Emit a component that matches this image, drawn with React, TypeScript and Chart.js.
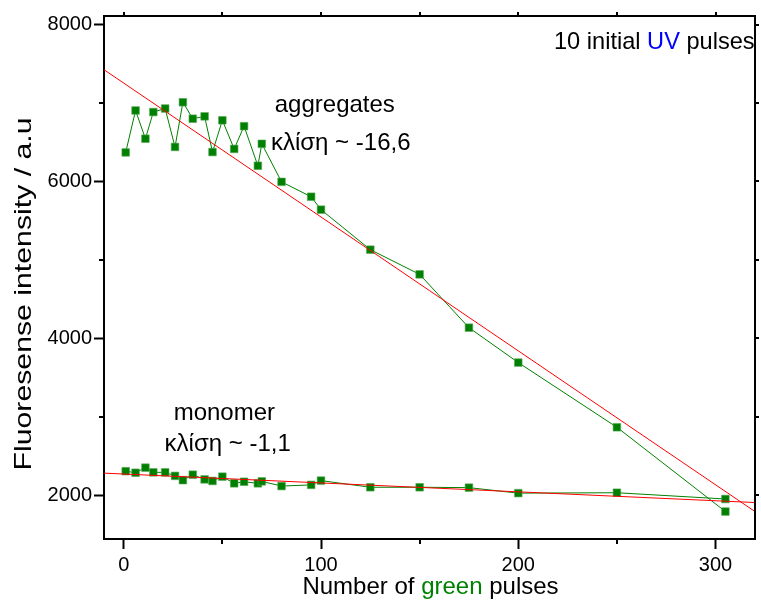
import React, { useEffect, useRef } from 'react';
import { Chart, registerables } from 'chart.js';

Chart.register(...registerables);

// Number of green pulses (x)
const pulses = [1, 6, 11, 15, 21, 26, 30, 35, 41, 45, 50, 56, 61, 68, 70, 80, 95, 100, 125, 150, 175, 200, 250, 305];
// Fluorescence intensity of aggregates
const aggregates = [6370, 6905, 6545, 6885, 6930, 6440, 7010, 6800, 6830, 6375, 6780, 6415, 6705, 6200, 6480, 5995, 5805, 5640, 5130, 4815, 4135, 3690, 2865, 1790];
// Fluorescence intensity of monomer
const monomer = [2305, 2285, 2350, 2290, 2290, 2245, 2190, 2260, 2200, 2180, 2235, 2150, 2170, 2150, 2175, 2115, 2130, 2185, 2100, 2100, 2095, 2025, 2030, 1950];
// Linear fits (end points)
const fitX = [-10, 320];
const aggregatesFit = [7425, 1790];
const monomerFit = [2280, 1905];

// Axes
const xTicks = [0, 50, 100, 150, 200, 250, 300];
const xLabelled = [0, 100, 200, 300];
const yTicks = [2000, 3000, 4000, 5000, 6000, 7000, 8000];
const yLabelled = [2000, 4000, 6000, 8000];

// Texts
const xTitleParts = [
  { text: 'Number of ', color: '#000000' },
  { text: 'green', color: '#008000' },
  { text: ' pulses', color: '#000000' },
];
const yTitle = 'Fluoresense intensity / a.u';
const cornerParts = [
  { text: '10 initial ', color: '#000000' },
  { text: 'UV', color: '#0000FF' },
  { text: ' pulses', color: '#000000' },
];
const notes = [
  { text: 'aggregates', x: 107, y: 6890 },
  { text: 'κλίση ~ -16,6', x: 110, y: 6400 },
  { text: 'monomer', x: 51, y: 2960 },
  { text: 'κλίση ~ -1,1', x: 52.7, y: 2568 },
];

const FONT = '"Liberation Sans", Arial, sans-serif';

function drawParts(ctx: CanvasRenderingContext2D, parts: { text: string; color: string }[], x: number, y: number, align: 'left' | 'center') {
  const widths = parts.map((p) => ctx.measureText(p.text).width);
  const total = widths.reduce((a, b) => a + b, 0);
  let cx = align === 'center' ? x - total / 2 : x;
  ctx.textAlign = 'left';
  parts.forEach((p, i) => {
    ctx.fillStyle = p.color;
    ctx.fillText(p.text, cx, y);
    cx += widths[i];
  });
}

const overlay = {
  id: 'overlay',
  afterDraw(chart: any) {
    const { ctx, chartArea } = chart;
    const { left, right, top, bottom } = chartArea;
    const xs = chart.scales.x;
    const ys = chart.scales.y;
    ctx.save();
    ctx.strokeStyle = '#000';
    ctx.lineWidth = 2;
    // top & right frame
    ctx.beginPath();
    ctx.moveTo(left - 1, top);
    ctx.lineTo(right, top);
    ctx.lineTo(right, bottom + 1);
    ctx.stroke();
    // minor ticks on bottom / left
    ctx.beginPath();
    xTicks.filter((v) => !xLabelled.includes(v)).forEach((v) => {
      const px = Math.round(xs.getPixelForValue(v));
      ctx.moveTo(px, bottom);
      ctx.lineTo(px, bottom + 5);
    });
    yTicks.filter((v) => !yLabelled.includes(v)).forEach((v) => {
      const py = Math.round(ys.getPixelForValue(v));
      ctx.moveTo(left, py);
      ctx.lineTo(left - 5, py);
    });
    // top ticks / right ticks
    xTicks.forEach((v) => {
      const px = Math.round(xs.getPixelForValue(v));
      ctx.moveTo(px, top);
      ctx.lineTo(px, top - 4);
    });
    yTicks.forEach((v) => {
      const py = Math.round(ys.getPixelForValue(v));
      ctx.moveTo(right, py);
      ctx.lineTo(right + 4, py);
    });
    ctx.stroke();

    // annotations
    ctx.font = `24px ${FONT}`;
    ctx.textBaseline = 'alphabetic';
    ctx.fillStyle = '#000';
    ctx.textAlign = 'center';
    notes.forEach((n) => {
      ctx.fillText(n.text, xs.getPixelForValue(n.x), ys.getPixelForValue(n.y));
    });

    // corner label
    ctx.font = `23.6px ${FONT}`;
    drawParts(ctx, cornerParts, 554, 49, 'left');

    // x title
    ctx.font = `24px ${FONT}`;
    drawParts(ctx, xTitleParts, (left + right) / 2 + 1, 594, 'center');

    // y title (stretched along its length like the reference)
    ctx.translate(31, 294);
    ctx.rotate(-Math.PI / 2);
    ctx.scale(1.26, 1);
    ctx.fillStyle = '#000';
    ctx.textAlign = 'center';
    ctx.fillText(yTitle, 0, 0);
    ctx.restore();
  },
};

export default function App() {
  const ref = useRef<HTMLCanvasElement | null>(null);
  useEffect(() => {
    if (!ref.current) return;
    const pts = (vals: number[]) => pulses.map((p, i) => ({ x: p, y: vals[i] }));
    const fit = (vals: number[]) => fitX.map((p, i) => ({ x: p, y: vals[i] }));
    const green = {
      borderColor: '#008000',
      borderWidth: 1,
      pointStyle: 'rect',
      pointRadius: 5.4,
      pointBackgroundColor: '#008000',
      pointBorderColor: '#5aa85a',
      pointBorderWidth: 0.6,
      order: 2,
      tension: 0,
    };
    const red = {
      borderColor: '#FF0000',
      borderWidth: 1,
      pointRadius: 0,
      order: 1,
    };
    const chart = new Chart(ref.current, {
      type: 'line',
      data: {
        datasets: [
          { label: 'aggregates', data: pts(aggregates), ...green } as any,
          { label: 'monomer', data: pts(monomer), ...green } as any,
          { label: 'aggregates fit', data: fit(aggregatesFit), ...red } as any,
          { label: 'monomer fit', data: fit(monomerFit), ...red } as any,
        ],
      },
      options: {
        responsive: false,
        animation: false,
        layout: { padding: { top: 16, right: 0, left: 0, bottom: 0 } },
        plugins: { legend: { display: false }, tooltip: { enabled: false }, title: { display: false } },
        scales: {
          x: {
            type: 'linear',
            min: -10,
            max: 320,
            afterBuildTicks: (s: any) => {
              s.ticks = xTicks.map((v) => ({ value: v }));
            },
            afterFit: (s: any) => {
              s.height = 68;
            },
            grid: {
              drawOnChartArea: false,
              drawTicks: true,
              tickLength: 10,
              tickWidth: 2,
              tickColor: (c: any) => (c.tick && xLabelled.includes(c.tick.value) ? '#000' : 'rgba(0,0,0,0)'),
            },
            border: { color: '#000', width: 2 },
            ticks: {
              autoSkip: false,
              maxRotation: 0,
              padding: 4,
              color: '#000',
              font: { family: FONT, size: 20 },
              callback: (v: any) => (xLabelled.includes(Number(v)) ? String(v) : ''),
            },
          },
          y: {
            type: 'linear',
            min: 1440,
            max: 8110,
            afterBuildTicks: (s: any) => {
              s.ticks = yTicks.map((v) => ({ value: v }));
            },
            afterFit: (s: any) => {
              s.width = 104;
            },
            grid: {
              drawOnChartArea: false,
              drawTicks: true,
              tickLength: 10,
              tickWidth: 2,
              tickColor: (c: any) => (c.tick && yLabelled.includes(c.tick.value) ? '#000' : 'rgba(0,0,0,0)'),
            },
            border: { color: '#000', width: 2 },
            ticks: {
              autoSkip: false,
              padding: 2,
              color: '#000',
              font: { family: FONT, size: 20 },
              callback: (v: any) => (yLabelled.includes(Number(v)) ? String(v) : ''),
            },
          },
        },
      },
      plugins: [overlay],
    });
    return () => chart.destroy();
  }, []);
  return (
    <div style={{ position: 'absolute', left: 0, top: 0, width: 761, height: 607, background: '#fff' }}>
      <canvas ref={ref} width={761} height={607} style={{ display: 'block' }} />
    </div>
  );
}
